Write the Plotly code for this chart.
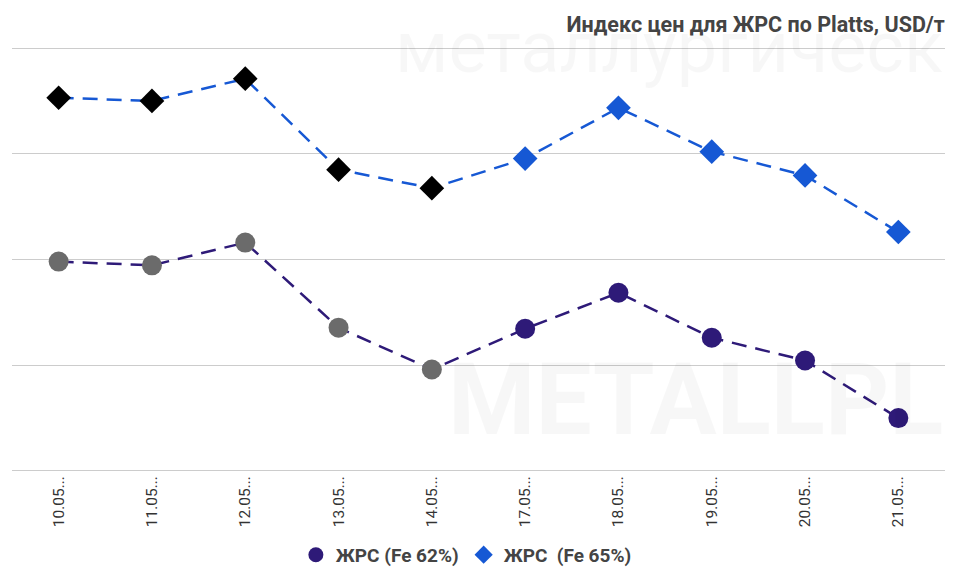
import plotly.graph_objects as go

dates = ["10.05...", "11.05...", "12.05...", "13.05...", "14.05...",
         "17.05...", "18.05...", "19.05...", "20.05...", "21.05..."]
fe62 = [229.6, 228.9, 233.2, 217.1, 209.2, 216.9, 223.7, 215.2, 210.9, 200.0]
fe65 = [260.6, 260.0, 264.2, 247.0, 243.5, 249.1, 258.7, 250.4, 245.9, 235.2]
n_highlight = 5  # first points drawn in neutral colours

c62 = "#2e1a78"
c65 = "#1658d4"
c62_hi = "#6b6b6b"
c65_hi = "#000000"

fig = go.Figure()

# faint watermark
wm = "rgba(0,0,0,0.03)"
fig.add_annotation(text="металлургическ", x=1.0, y=1.0, xref="paper", yref="paper",
                   showarrow=False, font=dict(size=72, color=wm, family="Roboto"),
                   xanchor="right", yanchor="middle")
fig.add_annotation(text="<b>METALLPL</b>", x=1.0, y=0.17, xref="paper", yref="paper",
                   showarrow=False, font=dict(size=100, color=wm, family="Roboto"),
                   xanchor="right", yanchor="middle")

fig.add_trace(go.Scatter(
    x=dates, y=fe62, mode="lines+markers", showlegend=False,
    line=dict(color=c62, width=2.5, dash="15px,9px"),
    marker=dict(symbol="circle", size=20,
                color=[c62_hi if i < n_highlight else c62 for i in range(len(fe62))],
                line=dict(width=0)),
))
fig.add_trace(go.Scatter(
    x=dates, y=fe65, mode="lines+markers", showlegend=False,
    line=dict(color=c65, width=2.5, dash="15px,9px"),
    marker=dict(symbol="diamond", size=19,
                color=[c65_hi if i < n_highlight else c65 for i in range(len(fe65))],
                line=dict(width=0)),
))
# legend entries
fig.add_trace(go.Scatter(x=[None], y=[None], mode="markers", name="<b>ЖРС (Fe 62%)</b>",
                         marker=dict(symbol="circle", size=15, color=c62)))
fig.add_trace(go.Scatter(x=[None], y=[None], mode="markers", name="<b>ЖРС  (Fe 65%)</b>",
                         marker=dict(symbol="diamond", size=14, color=c65)))

fig.update_layout(
    width=954, height=561,
    margin=dict(l=4, r=17, t=39, b=97, autoexpand=False),
    paper_bgcolor="white", plot_bgcolor="rgba(0,0,0,0)",
    font=dict(family="Roboto", color="#333"),
    title=dict(text="<b>Индекс цен для ЖРС по Platts, USD/т</b>", x=0.982, xanchor="right",
               y=0.970, yanchor="middle", font=dict(size=21.5, color="#444")),
    legend=dict(orientation="h", x=0.487, xanchor="center", y=-0.195, yanchor="middle",
                font=dict(size=19, color="#444"), itemwidth=30),
    xaxis=dict(type="category", range=[-0.5, 9.5], tickangle=-90, showgrid=False,
               showline=False, zeroline=False, ticks="",
               tickfont=dict(size=15.5, color="#333"), automargin=False),
    yaxis=dict(range=[189.8, 270.2], dtick=20, tick0=190, showticklabels=False, showgrid=True,
               gridcolor="#cccccc", gridwidth=1, zeroline=False, showline=False,
               automargin=False),
)

fig.write_html("out.html")
